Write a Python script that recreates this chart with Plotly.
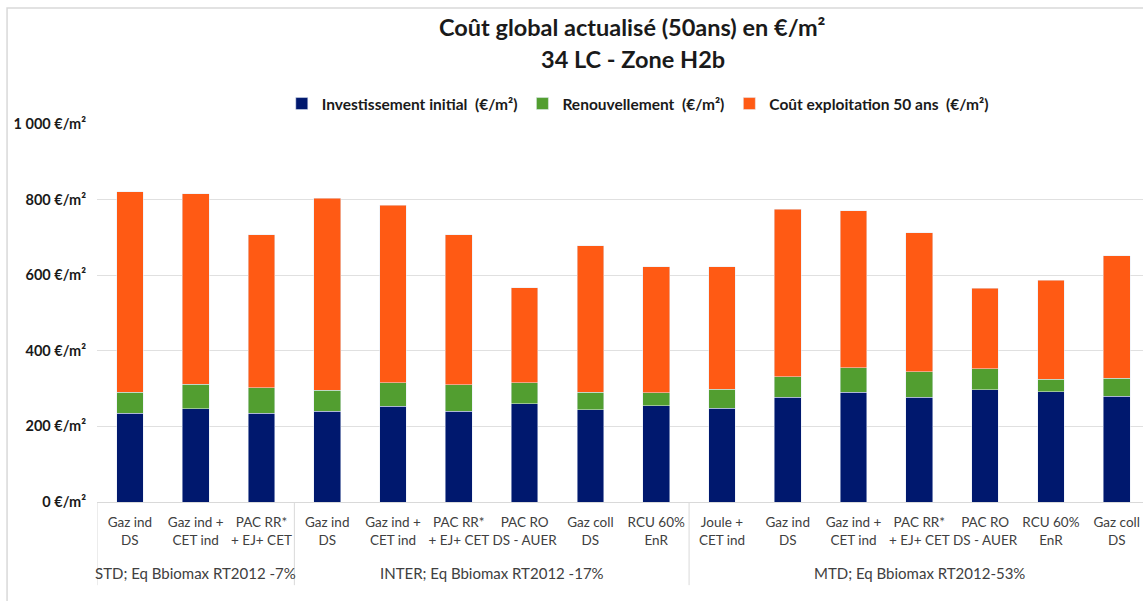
import plotly.graph_objects as go

# categories
systemes = ["Gaz ind<br>DS", "Gaz ind +<br>CET ind", "PAC RR*<br>+ EJ+ CET",
            "Gaz ind<br>DS", "Gaz ind +<br>CET ind", "PAC RR*<br>+ EJ+ CET",
            "PAC RO<br>DS - AUER", "Gaz coll<br>DS", "RCU 60%<br>EnR",
            "Joule +<br>CET ind", "Gaz ind<br>DS", "Gaz ind +<br>CET ind",
            "PAC RR*<br>+ EJ+ CET", "PAC RO<br>DS - AUER", "RCU 60%<br>EnR",
            "Gaz coll<br>DS"]
groupes = ["STD; Eq Bbiomax RT2012 -7%", "INTER; Eq Bbiomax RT2012 -17%", "MTD; Eq Bbiomax RT2012-53%"]
taille_groupes = [3, 6, 7]

# values in €/m²
investissement = [235, 247, 235, 240, 253, 240, 260, 244, 255, 248, 277, 290, 277, 297, 292, 280]
renouvellement = [56, 65, 67, 56, 63, 70, 56, 47, 34, 50, 55, 65, 68, 55, 33, 48]
exploitation = [530, 504, 405, 507, 469, 397, 251, 387, 333, 324, 443, 416, 367, 213, 261, 323]

# y ticks
y_vals = [0, 200, 400, 600, 800, 1000]
y_text = ["0 €/m²", "200 €/m²", "400 €/m²", "600 €/m²", "800 €/m²", "1 000 €/m²"]

font = "Lato, 'Open Sans', sans-serif"
pos = list(range(len(systemes)))

fig = go.Figure()
fig.add_trace(go.Bar(x=pos, y=investissement, name="Investissement initial  (€/m²)",
                     marker_color="#00186E"))
fig.add_trace(go.Bar(x=pos, y=renouvellement, name="Renouvellement  (€/m²)",
                     marker_color="#529E30"))
fig.add_trace(go.Bar(x=pos, y=exploitation, name="Coût exploitation 50 ans  (€/m²)",
                     marker_color="#FF5A14"))

fig.update_layout(
    barmode="stack", bargap=0.594,
    width=1143, height=601,
    margin=dict(l=97, r=0, t=124, b=99, autoexpand=False),
    paper_bgcolor="white", plot_bgcolor="white",
    font=dict(family=font, color="#404040"),
    showlegend=True,
    legend=dict(orientation="h", x=0.517, xanchor="center", y=1.053, yanchor="middle",
                traceorder="normal", font=dict(size=15.5, color="#1a1a1a", weight="bold")),
)

# title lines
fig.add_annotation(text="<b>Coût global actualisé (50ans) en €/m²</b>", xref="paper", yref="paper",
                   x=0.5124, y=1.2566, yanchor="middle", showarrow=False,
                   font=dict(size=23.5, color="#1a1a1a"))
fig.add_annotation(text="<b>34 LC - Zone H2b</b>", xref="paper", yref="paper",
                   x=0.5124, y=1.172, yanchor="middle", showarrow=False,
                   font=dict(size=23.5, color="#1a1a1a"))

# group labels and dividers under the axis
debut = -0.5
fig.add_shape(type="line", xref="x", yref="paper", x0=debut, x1=debut, y0=0, y1=-0.22,
              line=dict(color="#d9d9d9", width=1))
for nom, n in zip(groupes, taille_groupes):
    fin = debut + n
    fig.add_annotation(text=nom, xref="x", yref="paper", x=(debut + fin) / 2, y=-0.188,
                       yanchor="middle", showarrow=False, font=dict(size=15, color="#404040"))
    fig.add_shape(type="line", xref="x", yref="paper", x0=fin, x1=fin, y0=0, y1=-0.22,
                  line=dict(color="#d9d9d9", width=1))
    debut = fin

# chart frame
fig.add_shape(type="rect", xref="paper", yref="paper", x0=-0.086, x1=1.2, y0=-0.4, y1=1.307,
              line=dict(color="#d9d9d9", width=1.5))

fig.update_yaxes(range=[0, 1000], tickvals=y_vals, ticktext=y_text, showgrid=True,
                 gridcolor="#e0e0e0", zeroline=False, ticks="", ticklabelstandoff=10,
                 tickfont=dict(size=14.5, color="#1a1a1a", weight="bold"))
fig.update_xaxes(range=[-0.5, 15.4], tickvals=pos, ticktext=systemes, tickangle=0,
                 showline=True, linecolor="#d9d9d9", showgrid=False, zeroline=False,
                 ticklabelstandoff=8, tickfont=dict(size=13.5, color="#404040"))

# no body margin so the figure fills the window
fig.write_html("out.html", config={"displayModeBar": False},
               post_script="document.body.style.margin = '0';")
